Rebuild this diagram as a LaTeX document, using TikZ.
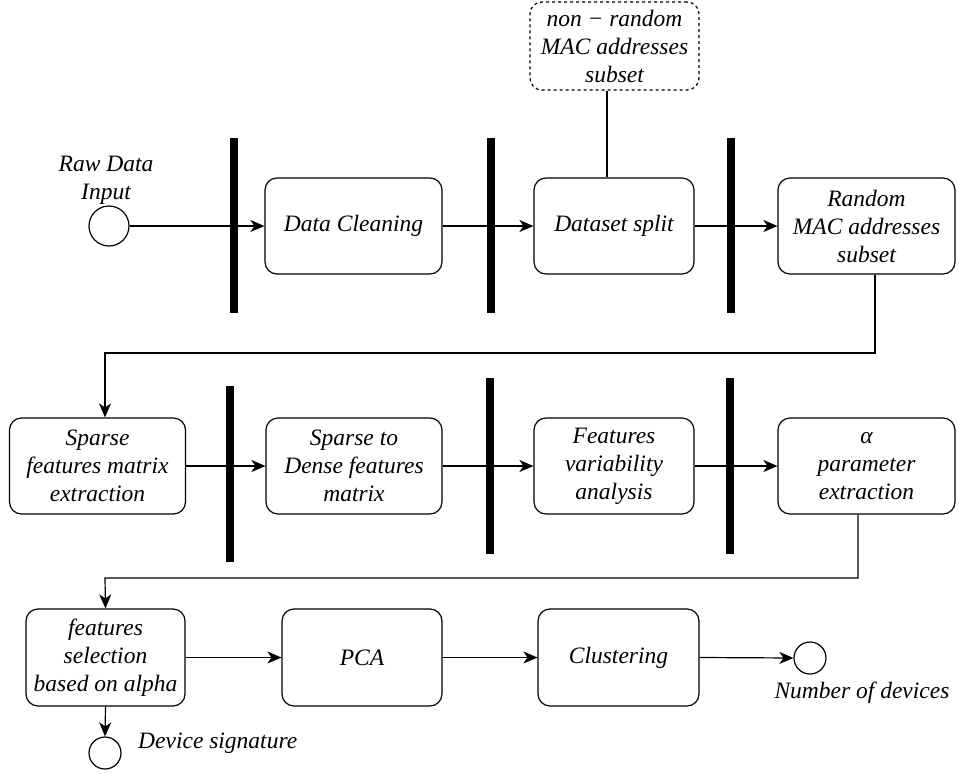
\documentclass[tikz,border=0pt]{standalone}
\usepackage{fontspec}
\setmainfont{Liberation Serif}[ItalicFont={Liberation Serif Italic}]
\usetikzlibrary{arrows.meta}
\begin{document}
\begin{tikzpicture}[x=1pt,y=-1pt,
  txt/.style={font=\itshape\fontsize{23.5}{28}\selectfont, align=center, inner sep=0pt},
  box/.style={txt, draw, rounded corners=12pt, line width=1.2pt, fill=white},
  dbox/.style={box, dashed},
  endc/.style={draw, circle, line width=1.2pt, fill=white, inner sep=0pt},
  bar/.style={fill=black, draw=none},
  conn/.style={line width=1.2pt},
  arr/.style={conn, -{Stealth[length=14pt, width=12pt, inset=4pt]}}
]
\useasboundingbox (0,0) rectangle (959,774);

% bars (drawn first, lines pass over)
\fill[bar] (230,138) rectangle (238,313);
\fill[bar] (487,138) rectangle (495,313);
\fill[bar] (727,138) rectangle (735,313);
\fill[bar] (226,386) rectangle (234,562);
\fill[bar] (486,378) rectangle (494,554);
\fill[bar] (726,378) rectangle (734,554);

% row 1
\node[endc, minimum size=40pt] (raw) at (109,226) {};
\node[txt] (rawlbl) at (106,180) {Raw Data\\Input};
\node[box, minimum width=177pt, minimum height=96pt] (dc) at (353.5,226) {Data Cleaning};
\node[box, minimum width=160pt, minimum height=96pt] (ds) at (614,226) {Dataset split};
\node[box, minimum width=177pt, minimum height=96pt] (rnd) at (866.5,226) {Random\\MAC addresses\\subset};
\node[dbox, minimum width=169pt, minimum height=88pt] (nr) at (614.5,46) {non − random\\MAC addresses\\subset};

% row 2
\node[box, minimum width=176pt, minimum height=96pt] (sp) at (97.5,466) {Sparse\\features matrix\\extraction};
\node[box, minimum width=176pt, minimum height=96pt] (sd) at (354,466) {Sparse to\\Dense features\\matrix};
\node[box, minimum width=160pt, minimum height=96pt] (fv) at (614,466) {Features\\variability\\analysis};
\node[box, minimum width=177pt, minimum height=96pt] (al) at (866.5,466) {α\\parameter\\extraction};

% row 3
\node[box, minimum width=159pt, minimum height=97pt] (fs) at (105.5,657.5) {features\\selection\\based on alpha};
\node[box, minimum width=160pt, minimum height=97pt] (pca) at (362,657.5) {PCA};
\node[box, minimum width=161pt, minimum height=97pt] (cl) at (618.5,657.5) {Clustering};
\node[endc, minimum size=32pt] (nd) at (810,658) {};
\node[txt] (ndlbl) at (862,693) {Number of devices};
\node[endc, minimum size=32pt] (dsig) at (105,753) {};
\node[txt, anchor=west] (dsiglbl) at (138,743) {Device signature};

% coordinates for bends
\coordinate (b1) at (875,353);
\coordinate (b2) at (105,353);
\coordinate (b3) at (858,578);
\coordinate (b4) at (105,578);

% connectors
\draw[arr] (raw.east) -- (dc.west);
\draw[arr] (dc.east) -- (ds.west);
\draw[arr] (ds.east) -- (rnd.west);
\draw[conn] ([xshift=-7pt]ds.north) -- ([xshift=-7pt]ds.north |- nr.south);
\draw[arr] (b1 |- rnd.south) -- (b1) -- (b2) -- (b2 |- sp.north);
\draw[arr] (sp.east) -- (sd.west);
\draw[arr] (sd.east) -- (fv.west);
\draw[arr] (fv.east) -- (al.west);
\draw[arr] (b3 |- al.south) -- (b3) -- (b4) -- (fs.north);
\draw[arr] (fs.east) -- (pca.west);
\draw[arr] (pca.east) -- (cl.west);
\draw[arr] (cl.east) -- (nd.west);
\draw[arr] (fs.south) -- (dsig.north);
\end{tikzpicture}
\end{document}
